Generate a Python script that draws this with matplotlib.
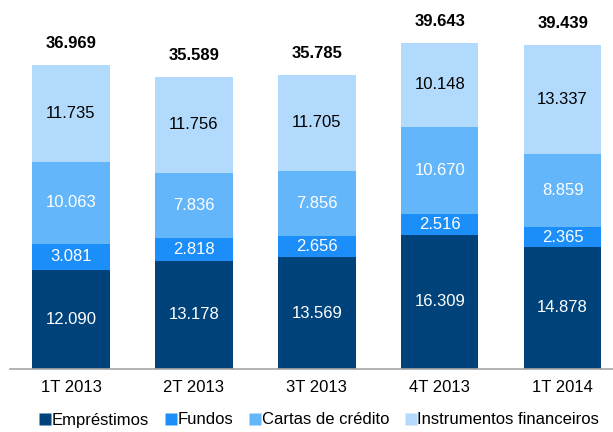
import matplotlib
matplotlib.use("Agg")
import matplotlib.pyplot as plt
from matplotlib.lines import Line2D

plt.rcParams['font.family'] = ['Liberation Sans', 'DejaVu Sans']

# data
quarters = ['1T 2013', '2T 2013', '3T 2013', '4T 2013', '1T 2014']
emprestimos = [12.090, 13.178, 13.569, 16.309, 14.878]
fundos = [3.081, 2.818, 2.656, 2.516, 2.365]
cartas = [10.063, 7.836, 7.856, 10.670, 8.859]
instrumentos = [11.735, 11.756, 11.705, 10.148, 13.337]
totals = [36.969, 35.589, 35.785, 39.643, 39.439]

series = [
    ('Empréstimos', emprestimos, '#00437A', 'white'),
    ('Fundos', fundos, '#1C8EF9', 'white'),
    ('Cartas de crédito', cartas, '#64B6FB', 'white'),
    ('Instrumentos financeiros', instrumentos, '#B2DAFC', 'black'),
]

fig = plt.figure(figsize=(6.13, 4.32), dpi=100)
ax = fig.add_axes([10 / 613, (432 - 369) / 432, 603 / 613, 369 / 432])

x = list(range(len(quarters)))
bottom = [0.0] * len(quarters)
handles = []
for name, vals, color, tcolor in series:
    ax.bar(x, vals, width=0.63, bottom=bottom, color=color, edgecolor='none')
    for i, v in enumerate(vals):
        ax.text(x[i], bottom[i] + v / 2, f'{v:.3f}', ha='center', va='center',
                color=tcolor, fontsize=12)
    bottom = [b + v for b, v in zip(bottom, vals)]
    handles.append(Line2D([], [], marker='s', linestyle='none', markersize=9,
                          markerfacecolor=color, markeredgecolor='none', label=name))

for i, t in enumerate(totals):
    ax.text(x[i], bottom[i] + 2.6, f'{t:.3f}', ha='center', va='center',
            fontsize=12, fontweight='bold')

ax.set_xlim(-0.496, 4.41)
ax.set_ylim(0, 44.9)
ax.set_xticks(x)
ax.set_xticklabels(quarters, fontsize=12)
ax.tick_params(axis='x', length=0, pad=8)
ax.set_yticks([])
for s in ['top', 'right', 'left']:
    ax.spines[s].set_visible(False)
ax.spines['bottom'].set_color('#A6A6A6')
ax.spines['bottom'].set_linewidth(1.2)

fig.legend(handles=handles, loc='center', bbox_to_anchor=(319 / 613, 1 - 420 / 432),
           ncol=4, frameon=False, fontsize=12, handletextpad=0.0,
           columnspacing=0.9, handlelength=0.8, borderpad=0)

fig.savefig('out.png', dpi=100)
